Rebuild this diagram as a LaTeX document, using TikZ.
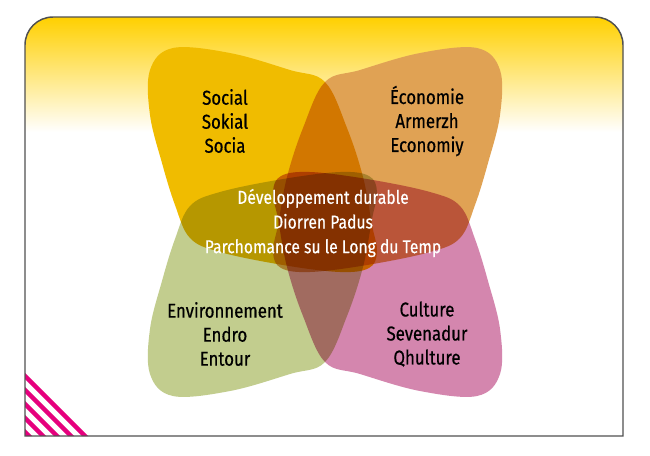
\documentclass[tikz,border=0pt]{standalone}
\usepackage{fontspec}
\setmainfont[FakeStretch=0.84,FakeBold=0.5]{Fira Sans}

\definecolor{framegrey}{RGB}{80,80,80}
\definecolor{bandyellow}{RGB}{255,208,0}
\definecolor{socialyellow}{RGB}{240,188,0}
\definecolor{ecotan}{RGB}{224,162,84}
\definecolor{envgreen}{RGB}{194,205,142}
\definecolor{culturepink}{RGB}{212,134,174}
\definecolor{stripemagenta}{RGB}{230,0,126}

\tikzset{every picture/.style={line width=0.75pt}}
\tikzset{
  petallabel/.style={anchor=center,align=center,inner sep=0.75pt,font=\fontsize{15}{18}\selectfont},
  corelabel/.style={anchor=center,align=center,inner sep=0.75pt,text=white,font=\fontsize{14}{18.5}\selectfont},
  stripe/.style={draw=stripemagenta,line width=3.2pt},
}

\begin{document}
\begin{tikzpicture}[x=0.75pt,y=0.75pt,yscale=-1,xscale=1]
\useasboundingbox (0,0) rectangle (650,455);

%Shape: Frame background with yellow band
\begin{scope}
\clip (25,436) -- (25,45) arc[start angle=180,end angle=270,radius=28] -- (595,17) arc[start angle=270,end angle=360,radius=28] -- (623,436) -- cycle;
\fill[white] (25,17) rectangle (623,436);
\shade[top color=bandyellow,bottom color=white] (25,17) rectangle (623,132);
%Shape: corner stripes
\foreach \k in {0,...,4}
  \draw[stripe] (15,{366+14*\k}) -- ({95-14*\k},446);
\end{scope}

%Shape: four petals, mirrored about the centre
\begin{scope}[blend group=multiply]
\foreach \sx/\sy/\col in {1/1/socialyellow,-1/1/ecotan,1/-1/envgreen,-1/-1/culturepink}
  \fill[\col,shift={(325,222)},xscale=\sx,yscale=\sy] plot[smooth cycle,tension=0.6] coordinates {(-152,-174) (-95,-169) (-35,-152) (0,-140) (22,-94) (38,-45) (47,3) (52,30) (44,46) (15,50) (-42,43) (-105,30) (-135,16) (-150,-17) (-163,-59) (-175,-107) (-175,-152)};
\end{scope}

%Frame outline
\draw[framegrey,line width=1.1pt] (25,436) -- (25,45) arc[start angle=180,end angle=270,radius=28] -- (595,17) arc[start angle=270,end angle=360,radius=28] -- (623,436) -- cycle;

% Text Node
\node[petallabel] (social) at (225,121) {Social\\Sokial\\Socia};
% Text Node
\node[petallabel] (economie) at (427,121) {Économie\\Armerzh\\Economiy};
% Text Node
\node[petallabel] (environnement) at (225,334) {Environnement\\Endro\\Entour};
% Text Node
\node[petallabel] (culture) at (427,334) {Culture\\Sevenadur\\Qhulture};
% Text Node
\node[corelabel] (durable) at (323,223) {Développement durable\\Diorren Padus\\Parchomance su le Long du Temp};

\end{tikzpicture}
\end{document}
